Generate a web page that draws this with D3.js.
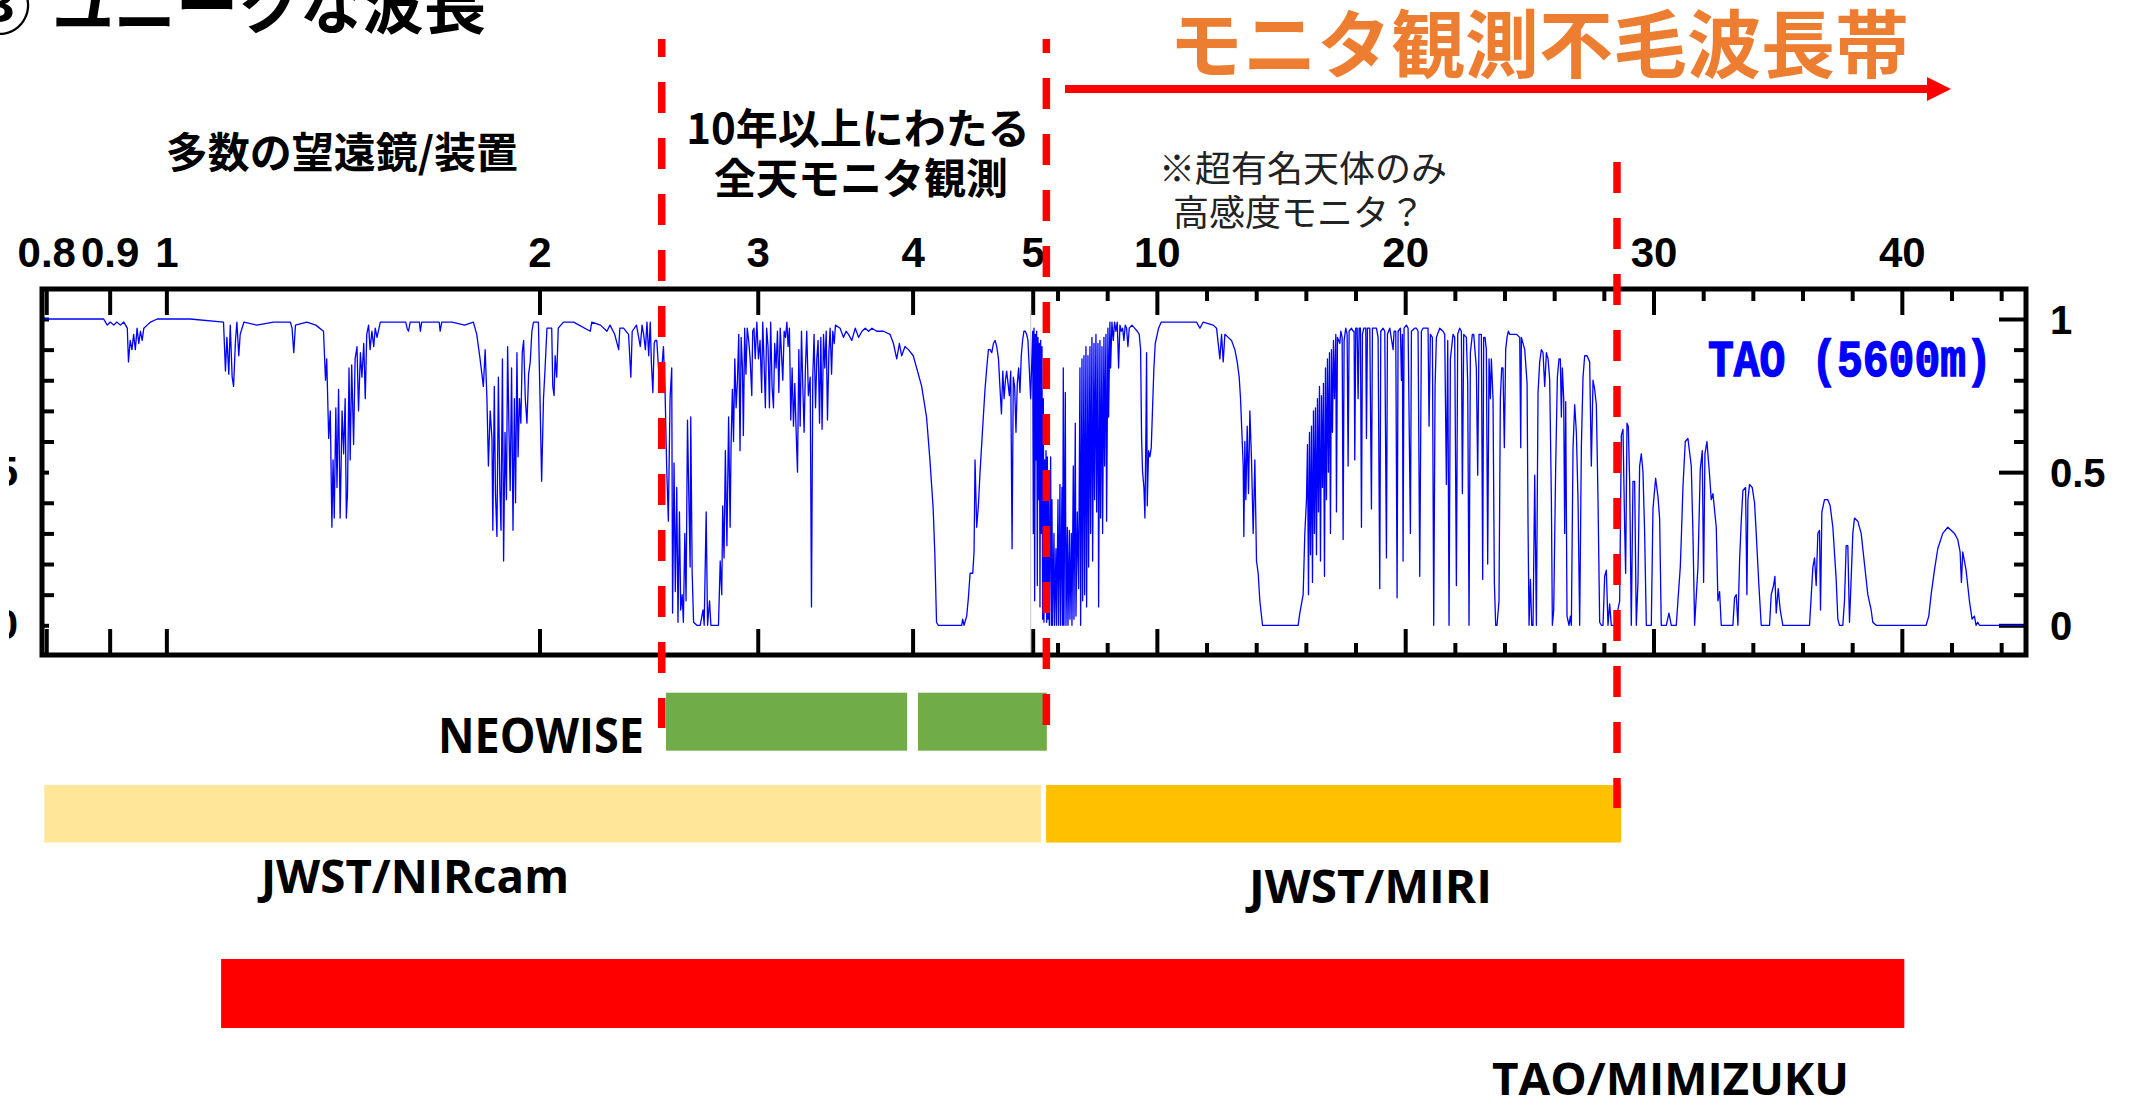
<!DOCTYPE html>
<html>
<head>
<meta charset="utf-8">
<script src="https://cdn.jsdelivr.net/npm/d3@7"></script>
<style>
  html, body { margin: 0; padding: 0; background: #fff; overflow: hidden; }
</style>
</head>
<body>
<svg id="chart" width="2131" height="1103"></svg>
<script>
// atmospheric transmission at TAO (5600m), [wavelength um, transmission]
// 0.79 - 5 um (log part of the axis)
const specNear = [
  [0.794,1.00],[0.890,1.00],[0.896,0.98],[0.901,0.99],[0.907,0.98],[0.912,0.99],[0.918,0.98],[0.924,0.99],
  [0.930,0.97],[0.932,0.86],[0.935,0.93],[0.938,0.90],[0.941,0.95],[0.944,0.90],[0.947,0.97],[0.950,0.92],
  [0.953,0.96],[0.956,0.93],[0.959,0.97],[0.965,0.98],[0.971,0.99],[0.983,1.00],[1.045,1.00],[1.112,0.99],
  [1.116,0.83],[1.119,0.94],[1.123,0.82],[1.126,0.98],[1.130,0.81],[1.133,0.78],[1.137,0.93],[1.140,0.99],
  [1.144,0.88],[1.147,0.95],[1.155,0.99],[1.183,0.98],[1.220,0.99],[1.259,0.99],[1.263,0.97],[1.267,0.89],
  [1.271,0.98],[1.298,0.99],[1.320,0.98],[1.339,0.96],
  [1.344,0.80],[1.347,0.87],[1.352,0.61],[1.356,0.70],[1.360,0.32],[1.363,0.54],[1.366,0.35],[1.370,0.71],
  [1.373,0.45],[1.377,0.77],[1.381,0.35],[1.386,0.70],[1.390,0.56],[1.394,0.74],[1.397,0.35],[1.400,0.43],
  [1.404,0.84],[1.407,0.54],[1.411,0.85],[1.416,0.59],[1.420,0.87],[1.425,0.91],[1.429,0.70],[1.434,0.89],
  [1.438,0.81],[1.443,0.92],[1.447,0.74],[1.451,0.95],[1.456,0.98],[1.460,0.90],[1.465,0.96],[1.470,0.91],
  [1.474,0.97],[1.479,0.94],[1.488,0.99],[1.520,0.99],[1.560,0.99],[1.564,0.97],[1.568,0.96],[1.573,0.99],
  [1.600,0.99],[1.603,0.96],[1.607,0.99],[1.660,0.99],[1.663,0.96],[1.668,0.99],[1.700,0.99],[1.740,0.98],
  [1.769,0.99],[1.780,0.95],[1.791,0.87],[1.802,0.78],[1.808,0.90],[1.814,0.74],[1.819,0.52],[1.825,0.70],
  [1.831,0.61],[1.834,0.31],[1.839,0.78],[1.843,0.43],[1.848,0.29],[1.853,0.81],[1.858,0.45],[1.862,0.31],
  [1.867,0.87],[1.871,0.21],[1.876,0.63],[1.881,0.41],[1.885,0.91],[1.890,0.63],[1.894,0.44],[1.899,0.84],
  [1.904,0.31],[1.909,0.74],[1.913,0.40],[1.918,0.89],[1.922,0.55],[1.927,0.74],[1.932,0.66],[1.937,0.89],
  [1.942,0.93],[1.948,0.74],[1.954,0.66],[1.960,0.82],[1.966,0.86],[1.972,0.96],[1.978,0.99],[1.990,0.99],
  [1.996,0.99],[2.002,0.74],[2.008,0.47],[2.015,0.74],[2.021,0.84],[2.028,0.97],[2.046,0.97],[2.050,0.78],
  [2.055,0.75],[2.059,0.88],[2.065,0.81],[2.071,0.97],[2.091,0.99],[2.131,0.99],[2.198,0.96],[2.204,0.99],
  [2.240,0.98],[2.267,0.96],[2.280,0.98],[2.300,0.95],[2.317,0.90],[2.322,0.97],[2.338,0.97],[2.360,0.95],
  [2.370,0.81],[2.376,0.96],[2.395,0.98],[2.412,0.91],[2.420,0.98],[2.427,0.95],[2.435,0.90],[2.442,0.99],
  [2.450,0.88],[2.457,0.99],[2.462,0.86],[2.469,0.76],[2.475,0.92],[2.480,0.93],
  [2.487,0.93],[2.502,0.76],[2.518,0.91],[2.526,0.75],[2.533,0.52],[2.541,0.34],[2.549,0.74],[2.557,0.84],
  [2.561,0.04],[2.568,0.53],[2.574,0.11],[2.581,0.45],[2.587,0.01],[2.594,0.37],[2.600,0.05],[2.607,0.10],
  [2.613,0.01],[2.620,0.30],[2.626,0.08],[2.633,0.67],[2.639,0.44],[2.646,0.19],[2.649,0.68],[2.656,0.17],
  [2.663,0.01],[2.679,0.00],[2.696,0.00],[2.710,0.05],[2.716,0.00],[2.726,0.37],[2.733,0.00],[2.743,0.08],
  [2.750,0.00],[2.772,0.00],[2.789,0.00],[2.798,0.21],[2.806,0.10],[2.811,0.39],[2.818,0.22],[2.825,0.57],
  [2.833,0.26],[2.842,0.68],[2.850,0.32],[2.855,0.59],[2.862,0.77],[2.868,0.60],[2.875,0.87],[2.882,0.71],
  [2.889,0.80],[2.896,0.95],[2.903,0.57],[2.909,0.94],[2.916,0.84],[2.921,0.62],[2.928,0.97],[2.935,0.82],
  [2.942,0.97],[2.950,0.93],[2.958,0.87],[2.967,0.75],[2.972,0.96],[2.979,0.97],[2.986,0.87],[2.995,0.99],
  [3.004,0.87],[3.013,0.93],[3.022,0.76],[3.028,0.99],[3.035,0.87],[3.043,0.71],[3.050,0.97],[3.058,0.91],
  [3.066,0.71],[3.073,0.99],[3.081,0.78],[3.089,0.71],[3.096,0.92],[3.104,0.84],[3.112,0.96],[3.120,0.76],
  [3.128,0.97],[3.135,0.89],[3.143,0.80],[3.151,0.96],[3.159,0.94],[3.167,0.99],[3.174,0.91],[3.182,0.97],
  [3.190,0.67],[3.198,0.84],[3.206,0.65],[3.214,0.79],[3.222,0.63],[3.230,0.50],[3.238,0.90],[3.246,0.65],
  [3.254,0.96],[3.262,0.78],[3.270,0.63],[3.278,0.84],[3.286,0.96],[3.296,0.75],[3.307,0.81],[3.315,0.06],
  [3.323,0.81],[3.331,0.95],[3.340,0.71],[3.348,0.87],[3.356,0.93],[3.365,0.66],[3.373,0.94],[3.381,0.64],
  [3.390,0.95],[3.398,0.84],[3.407,0.96],[3.415,0.67],[3.424,0.89],[3.432,0.97],[3.441,0.82],[3.449,0.96],
  [3.458,0.92],[3.466,0.98],[3.496,0.97],[3.518,0.94],[3.535,0.96],[3.551,0.95],[3.573,0.93],[3.596,0.97],
  [3.618,0.94],[3.641,0.96],[3.663,0.97],[3.686,0.96],[3.709,0.97],[3.742,0.96],[3.789,0.96],[3.836,0.95],
  [3.860,0.92],[3.884,0.87],[3.903,0.92],[3.920,0.88],[3.944,0.91],[3.969,0.90],[4.005,0.88],[4.043,0.82],
  [4.068,0.78],[4.105,0.68],[4.131,0.54],[4.156,0.38],[4.169,0.23],[4.182,0.01],[4.195,0.00],[4.382,0.00],
  [4.390,0.02],[4.401,0.00],[4.423,0.03],[4.437,0.09],[4.451,0.17],[4.473,0.17],[4.484,0.24],[4.492,0.54],
  [4.506,0.32],[4.520,0.39],[4.534,0.50],[4.557,0.65],[4.576,0.77],[4.591,0.84],[4.605,0.90],[4.619,0.90],
  [4.634,0.89],[4.648,0.92],[4.663,0.93],[4.677,0.91],[4.692,0.87],[4.706,0.77],[4.718,0.69],[4.730,0.83],
  [4.741,0.74],[4.753,0.80],[4.764,0.83],[4.776,0.79],[4.788,0.75],[4.800,0.83],[4.812,0.25],[4.823,0.81],
  [4.835,0.78],[4.847,0.63],[4.859,0.79],[4.871,0.84],[4.883,0.76],[4.895,0.88],[4.907,0.93],[4.919,0.96],
  [4.931,0.96],[4.944,0.95],[4.956,0.93],[4.968,0.84],[4.981,0.74]
];

// 5 - 24 um (linear part)
const specMid = [
  [5.000,0.96],[5.025,0.30],[5.052,0.97],[5.079,0.08],[5.106,0.95],[5.132,0.54],[5.159,0.96],[5.186,0.13],
  [5.213,0.94],[5.240,0.41],[5.267,0.92],[5.293,0.06],[5.320,0.93],[5.347,0.30],[5.374,0.91],[5.401,0.02],
  [5.428,0.74],[5.454,0.01],[5.481,0.54],[5.508,0.08],[5.535,0.57],[5.562,0.01],[5.589,0.55],[5.615,0.02],
  [5.642,0.45],[5.669,0.00],[5.723,0.55],[5.750,0.00],[5.776,0.41],[5.803,0.00],[5.857,0.30],[5.884,0.00],
  [5.937,0.25],[5.964,0.00],[6.018,0.41],[6.045,0.00],[6.098,0.46],[6.125,0.00],[6.179,0.45],[6.206,0.00],
  [6.232,0.84],[6.259,0.00],[6.313,0.76],[6.340,0.00],[6.393,0.32],[6.420,0.00],[6.474,0.31],[6.501,0.02],
  [6.554,0.30],[6.581,0.00],[6.635,0.52],[6.662,0.02],[6.715,0.66],[6.742,0.03],[6.796,0.37],[6.849,0.12],
  [6.903,0.84],[6.930,0.00],[6.984,0.87],[7.010,0.08],[7.064,0.88],[7.091,0.10],[7.145,0.91],[7.171,0.06],
  [7.225,0.88],[7.252,0.19],[7.306,0.91],[7.332,0.30],[7.386,0.94],[7.413,0.21],[7.467,0.92],[7.493,0.41],
  [7.547,0.95],[7.574,0.37],[7.628,0.92],[7.654,0.06],[7.708,0.93],[7.735,0.35],[7.789,0.91],[7.815,0.30],
  [7.869,0.94],[7.896,0.52],[7.950,0.95],[7.976,0.34],[8.030,0.97],[8.057,0.68],[8.110,0.99],[8.137,0.84],
  [8.191,0.99],[8.245,0.93],[8.298,0.99],[8.352,0.96],[8.405,0.99],[8.459,0.84],[8.513,0.98],[8.566,0.96],
  [8.620,0.97],[8.674,0.93],[8.727,0.98],[8.781,0.97],[8.835,0.91],[8.888,0.97],[8.996,0.98],[9.103,0.97],
  [9.210,0.96],[9.291,0.95],[9.345,0.90],[9.385,0.61],[9.425,0.50],[9.479,0.45],[9.519,0.35],[9.559,0.63],
  [9.586,0.89],[9.613,0.39],[9.666,0.57],[9.720,0.55],[9.774,0.58],[9.827,0.71],[9.881,0.84],[9.935,0.92],
  [9.988,0.94],[10.069,0.97],[10.176,0.99],[10.928,0.99],[11.598,0.99],[11.733,0.97],[11.867,0.99],
  [12.269,0.98],[12.403,0.97],[12.538,0.87],[12.605,0.95],[12.672,0.86],[12.739,0.95],[12.873,0.94],
  [13.007,0.93],[13.141,0.90],[13.235,0.86],[13.316,0.81],[13.369,0.74],[13.423,0.63],[13.477,0.52],
  [13.503,0.29],[13.544,0.60],[13.584,0.41],[13.638,0.65],[13.691,0.43],[13.745,0.70],[13.812,0.54],
  [13.879,0.30],[13.946,0.54],[14.013,0.21],[14.080,0.17],[14.147,0.08],[14.255,0.00],[15.690,0.00],
  [15.757,0.04],[15.891,0.10],[15.958,0.30],[16.025,0.41],
  [16.066,0.59],[16.106,0.10],[16.146,0.63],[16.186,0.23],[16.227,0.65],[16.267,0.14],[16.307,0.70],
  [16.347,0.30],[16.387,0.71],[16.428,0.23],[16.468,0.74],[16.508,0.37],[16.548,0.78],[16.589,0.21],
  [16.629,0.75],[16.669,0.45],[16.709,0.79],[16.750,0.16],[16.790,0.84],[16.830,0.41],[16.870,0.87],
  [16.910,0.50],[16.951,0.89],[16.991,0.30],[17.031,0.90],[17.071,0.63],[17.112,0.93],[17.152,0.74],
  [17.206,0.95],[17.232,0.37],[17.273,0.94],[17.367,0.92],[17.407,0.96],[17.461,0.94],[17.501,0.28],
  [17.541,0.93],[17.608,0.97],[17.662,0.95],[17.702,0.52],[17.742,0.96],[17.836,0.97],[17.903,0.96],
  [17.943,0.96],[17.970,0.54],[18.010,0.97],[18.064,0.97],[18.104,0.74],[18.145,0.97],[18.198,0.97],
  [18.239,0.32],[18.279,0.95],[18.333,0.97],[18.413,0.97],[18.440,0.61],[18.480,0.97],[18.574,0.97],
  [18.641,0.38],[18.681,0.97],[18.775,0.97],[18.842,0.97],[18.909,0.94],[18.976,0.12],[19.017,0.96],
  [19.110,0.97],[19.178,0.96],[19.245,0.22],[19.285,0.95],[19.379,0.97],[19.513,0.90],[19.553,0.96],
  [19.620,0.96],[19.674,0.09],[19.714,0.96],[19.808,0.97],[19.848,0.80],[19.888,0.95],[19.915,0.21],
  [19.955,0.97],[20.049,0.98],[20.117,0.97],[20.210,0.30],[20.251,0.96],[20.385,0.97],[20.452,0.97],
  [20.519,0.96],[20.586,0.16],[20.653,0.96],[20.720,0.97],[20.854,0.97],[20.921,0.97],[20.961,0.65],
  [21.015,0.95],[21.096,0.94],[21.149,0.00],[21.203,0.78],[21.257,0.94],[21.391,0.97],[21.525,0.96],
  [21.592,0.95],[21.659,0.46],[21.713,0.93],[21.766,0.00],[21.820,0.87],[21.927,0.95],[21.994,0.94],
  [22.062,0.13],[22.115,0.95],[22.196,0.97],[22.263,0.96],[22.303,0.43],[22.357,0.95],[22.464,0.94],
  [22.518,0.79],[22.571,0.00],[22.625,0.89],[22.705,0.95],[22.759,0.95],[22.866,0.84],[22.920,0.49],
  [22.974,0.95],[23.027,0.95],[23.068,0.95],[23.121,0.15],[23.161,0.94],[23.215,0.94],[23.269,0.90],
  [23.322,0.20],[23.376,0.87],[23.430,0.74],[23.470,0.87],[23.537,0.74],[23.591,0.14],[23.644,0.00],
  [23.698,0.00],[23.778,0.08],[23.832,0.74],[23.886,0.84],[23.939,0.84],[23.993,0.58],[24.047,0.90],
  [24.101,0.94],[24.154,0.96],[24.208,0.95]
];

// 24 - 45 um
const specFar = [
  [24.277,0.95],[24.478,0.95],[24.612,0.94],[24.653,0.58],[24.679,0.94],[24.814,0.90],[24.908,0.79],
  [24.948,0.32],[24.988,0.00],[25.042,0.15],[25.095,0.00],[25.149,0.00],[25.216,0.49],[25.283,0.00],
  [25.350,0.76],[25.417,0.86],[25.484,0.90],[25.551,0.89],[25.618,0.78],[25.686,0.89],[25.753,0.87],
  [25.820,0.80],[25.887,0.41],[25.927,0.00],[25.981,0.05],[26.061,0.52],[26.128,0.81],[26.195,0.87],
  [26.249,0.87],[26.289,0.68],[26.329,0.84],[26.383,0.74],[26.423,0.30],[26.464,0.73],[26.517,0.03],
  [26.598,0.00],[26.651,0.03],[26.692,0.00],[26.759,0.58],[26.826,0.72],[26.893,0.63],[26.960,0.41],
  [27.027,0.00],[27.094,0.58],[27.161,0.81],[27.228,0.88],[27.322,0.88],[27.429,0.86],[27.496,0.52],
  [27.564,0.80],[27.631,0.77],[27.698,0.72],[27.765,0.41],[27.832,0.01],[27.899,0.00],[27.966,0.00],
  [28.033,0.16],[28.100,0.18],[28.167,0.00],[28.234,0.07],[28.301,0.00],[28.435,0.00],[28.637,0.08],
  [28.704,0.62],[28.771,0.64],[28.838,0.32],[28.878,0.17],[28.932,0.66],[28.985,0.65],[29.039,0.47],
  [29.106,0.00],[29.173,0.47],[29.240,0.47],[29.307,0.00],[29.374,0.14],[29.441,0.52],[29.508,0.56],
  [29.576,0.50],[29.643,0.30],[29.710,0.00],[29.911,0.00],[29.978,0.38],[30.085,0.48],[30.179,0.42],
  [30.246,0.35],[30.313,0.00],[30.515,0.00],[30.622,0.04],[30.716,0.00],[30.917,0.00],[30.984,0.08],
  [31.078,0.19],[31.118,0.28],[31.185,0.45],[31.279,0.60],[31.386,0.61],[31.521,0.52],[31.588,0.30],
  [31.655,0.00],[31.789,0.19],[31.883,0.51],[31.963,0.57],[32.017,0.14],[32.071,0.56],[32.151,0.60],
  [32.258,0.49],[32.325,0.41],[32.393,0.43],[32.527,0.32],[32.594,0.08],[32.661,0.11],[32.728,0.00],
  [33.197,0.00],[33.264,0.09],[33.332,0.10],[33.399,0.00],[33.466,0.21],[33.533,0.34],[33.600,0.44],
  [33.707,0.45],[33.761,0.10],[33.801,0.41],[33.868,0.46],[33.975,0.45],[34.069,0.40],[34.136,0.30],
  [34.244,0.13],[34.338,0.00],[34.673,0.00],[34.740,0.10],[34.834,0.13],[34.888,0.16],[34.941,0.04],
  [35.022,0.12],[35.102,0.05],[35.209,0.00],[36.283,0.00],[36.417,0.19],[36.484,0.22],[36.551,0.13],
  [36.618,0.30],[36.685,0.31],[36.725,0.05],[36.779,0.37],[36.886,0.41],[37.020,0.41],[37.114,0.39],
  [37.222,0.32],[37.356,0.15],[37.423,0.02],[37.490,0.00],[37.624,0.00],[37.691,0.08],[37.758,0.26],
  [37.825,0.26],[37.892,0.01],[37.959,0.15],[38.026,0.30],[38.093,0.35],[38.227,0.34],[38.362,0.30],
  [38.496,0.20],[38.630,0.10],[38.764,0.05],[38.831,0.01],[38.965,0.00],[40.978,0.00],[41.085,0.03],
  [41.179,0.10],[41.313,0.18],[41.447,0.25],[41.648,0.30],[41.849,0.32],[41.984,0.31],[42.118,0.30],
  [42.252,0.28],[42.346,0.24],[42.399,0.14],[42.453,0.24],[42.587,0.18],[42.721,0.08],[42.828,0.02],
  [42.922,0.03],[42.990,0.00],[43.057,0.01],[43.124,0.00],[45.000,0.00]
];

const tickLabelsLog = [0.8, 0.9, 1, 2, 3, 4, 5];
const tickLabelsLin = [10, 20, 30, 40];
const minorTicksLin = [6, 8, 12, 14, 16, 18, 22, 24, 26, 28, 32, 34, 36, 38, 42, 44];
const yMajor = [0, 0.5, 1];
const yMinor = [0.1, 0.2, 0.3, 0.4, 0.6, 0.7, 0.8, 0.9];

// red dashed boundaries (um)
const guideWaves = [2.51, 5.55, 28.53];

// instrument coverage (um)
const instNames = ["NEOWISE", "JWST/NIRcam", "JWST/MIRI", "TAO/MIMIZUKU"];
const instRanges = [[[2.53, 3.96], [4.04, 5.57]], [[0.797, 5.33]], [[5.54, 28.7]], [[1.107, 40.1]]];
const instColors = ["#70AD47", "#FFE699", "#FFC000", "#FF0000"];

const svg = d3.select("#chart");

const frame = { left: 42, right: 2026, top: 289, bottom: 655 };
const xSplit = 1032.7;
const xLog = d3.scaleLog().domain([0.7937, 5]).range([frame.left, xSplit]);
const xLin = d3.scaleLinear().domain([5, 45]).range([xSplit, frame.right]);
const xPos = w => (w <= 5 ? xLog(w) : xLin(w));
const y = d3.scaleLinear().domain([0, 1]).range([625.3, 319]);

const tickFont = "'Liberation Sans', Arial, sans-serif";
const jpFont = "'Noto Sans CJK JP', sans-serif";

function styleAxis(g, size) {
  g.select(".domain").remove();
  g.selectAll("line").attr("stroke", "#000").attr("stroke-width", 4);
  g.selectAll("text")
    .attr("font-family", tickFont)
    .attr("font-size", size || 42)
    .attr("font-weight", "bold")
    .attr("fill", "#000");
}

// the left labels are mostly off the slide, only a sliver shows
svg.append("defs").append("clipPath").attr("id", "leftcut")
  .append("rect").attr("x", 9).attr("y", 0).attr("width", 40).attr("height", 1103);

// top axis
svg.append("g").attr("transform", `translate(0,${frame.top})`)
  .call(d3.axisTop(xLog).tickValues(tickLabelsLog).tickSize(-26).tickPadding(22).tickFormat(d => String(d)))
  .call(styleAxis);
svg.append("g").attr("transform", `translate(0,${frame.top})`)
  .call(d3.axisTop(xLin).tickValues(tickLabelsLin).tickSize(-26).tickPadding(22).tickFormat(d => String(d)))
  .call(styleAxis);
svg.append("g").attr("transform", `translate(0,${frame.top})`)
  .call(d3.axisTop(xLin).tickValues(minorTicksLin).tickSize(-12).tickFormat(""))
  .call(styleAxis);

// bottom axis
svg.append("g").attr("transform", `translate(0,${frame.bottom})`)
  .call(d3.axisBottom(xLog).tickValues(tickLabelsLog).tickSize(-26).tickFormat(""))
  .call(styleAxis);
svg.append("g").attr("transform", `translate(0,${frame.bottom})`)
  .call(d3.axisBottom(xLin).tickValues(tickLabelsLin).tickSize(-26).tickFormat(""))
  .call(styleAxis);
svg.append("g").attr("transform", `translate(0,${frame.bottom})`)
  .call(d3.axisBottom(xLin).tickValues(minorTicksLin).tickSize(-12).tickFormat(""))
  .call(styleAxis);

// left axis
const leftAxis = svg.append("g").attr("clip-path", "url(#leftcut)")
  .append("g").attr("transform", `translate(${frame.left},0)`)
  .call(d3.axisLeft(y).tickValues(yMajor).tickSize(-27).tickPadding(24).tickFormat(d => (d === 1 ? "" : String(d))))
  .call(styleAxis);
svg.append("g").attr("transform", `translate(${frame.left},0)`)
  .call(d3.axisLeft(y).tickValues(yMinor).tickSize(-12).tickFormat(""))
  .call(styleAxis);

// right axis
svg.append("g").attr("transform", `translate(${frame.right},0)`)
  .call(d3.axisRight(y).tickValues(yMajor).tickSize(-27).tickPadding(24).tickFormat(d => String(d)))
  .call(g => styleAxis(g, 40))
  .selectAll("text").attr("dy", "0.36em");
svg.append("g").attr("transform", `translate(${frame.right},0)`)
  .call(d3.axisRight(y).tickValues(yMinor).tickSize(-12).tickFormat(""))
  .call(styleAxis);

// thin panel boundary
svg.append("line")
  .attr("x1", xSplit - 2).attr("x2", xSplit - 2)
  .attr("y1", 310).attr("y2", frame.bottom - 2)
  .attr("stroke", "#c8c8c8").attr("stroke-width", 1);

// spectrum
const spectrum = specNear.concat(specMid, specFar);
const line = d3.line().x(d => xPos(d[0])).y(d => y(d[1]));
svg.append("path")
  .datum(spectrum)
  .attr("d", line)
  .attr("fill", "none")
  .attr("stroke", "#0000FF")
  .attr("stroke-width", 1.3)
  .attr("stroke-linejoin", "round");

// frame
svg.append("rect")
  .attr("x", frame.left).attr("y", frame.top)
  .attr("width", frame.right - frame.left).attr("height", frame.bottom - frame.top)
  .attr("fill", "none").attr("stroke", "#000").attr("stroke-width", 5);

svg.append("text")
  .attr("transform", "translate(1708,376) scale(1,1.2)")
  .attr("font-family", "'Liberation Mono', 'Courier New', monospace")
  .attr("font-weight", "bold").attr("font-size", 43)
  .attr("fill", "#0000FF").attr("stroke", "#0000FF").attr("stroke-width", 1.2)
  .text("TAO (5600m)");

// instrument bars
const rowTop = [692.7, 785, 785, 959];
const rowH = [58, 57.5, 57.5, 69];
instRanges.forEach((ranges, i) => {
  svg.selectAll(null).data(ranges).enter().append("rect")
    .attr("x", d => xPos(d[0]))
    .attr("width", d => xPos(d[1]) - xPos(d[0]))
    .attr("y", rowTop[i]).attr("height", rowH[i])
    .attr("fill", instColors[i]);
});

const instLabels = [
  { x: 438, y: 753, size: 48, len: 206 },
  { x: 261, y: 893, size: 46, len: 308 },
  { x: 1249, y: 903, size: 47, len: 243 },
  { x: 1492, y: 1095, size: 45, len: 357 }
];
instLabels.forEach((p, i) => {
  svg.append("text")
    .attr("x", p.x).attr("y", p.y)
    .attr("font-family", "'Open Sans', sans-serif").attr("font-weight", "bold")
    .attr("font-size", p.size)
    .attr("textLength", p.len).attr("lengthAdjust", "spacingAndGlyphs")
    .attr("fill", "#000")
    .text(instNames[i]);
});

// red dashed boundaries
const guideSpan = [[39, 728, 13], [39, 725, 17], [162, 808, 0]];
guideWaves.forEach((w, i) => {
  svg.append("line")
    .attr("x1", xPos(w)).attr("x2", xPos(w))
    .attr("y1", guideSpan[i][0]).attr("y2", guideSpan[i][1])
    .attr("stroke", "#FF0000").attr("stroke-width", 7.5)
    .attr("stroke-dasharray", "31,25")
    .attr("stroke-dashoffset", guideSpan[i][2]);
});

// arrow
svg.append("line")
  .attr("x1", 1065).attr("x2", 1930).attr("y1", 89).attr("y2", 89)
  .attr("stroke", "#FF0000").attr("stroke-width", 8);
svg.append("path")
  .attr("d", "M1927,77 L1951,89 L1927,101 Z")
  .attr("fill", "#FF0000");

// texts
svg.append("text").attr("x", -31).attr("y", 29)
  .attr("font-family", jpFont).attr("font-weight", "bold").attr("font-size", 62)
  .attr("fill", "#000").text("③");
svg.append("text").attr("x", 52).attr("y", 29)
  .attr("font-family", jpFont).attr("font-weight", "bold").attr("font-size", 62)
  .attr("fill", "#000").text("ユニークな波長");

svg.append("text").attr("x", 1539).attr("y", 72).attr("text-anchor", "middle")
  .attr("font-family", jpFont).attr("font-weight", "bold").attr("font-size", 74)
  .attr("fill", "#ED7D31").text("モニタ観測不毛波長帯");

svg.append("text").attr("x", 342).attr("y", 168).attr("text-anchor", "middle")
  .attr("font-family", jpFont).attr("font-weight", "bold").attr("font-size", 42)
  .attr("fill", "#000").text("多数の望遠鏡/装置");

svg.append("text").attr("x", 858).attr("y", 144).attr("text-anchor", "middle")
  .attr("font-family", jpFont).attr("font-weight", "bold").attr("font-size", 42)
  .attr("fill", "#000").text("10年以上にわたる");
svg.append("text").attr("x", 861).attr("y", 194).attr("text-anchor", "middle")
  .attr("font-family", jpFont).attr("font-weight", "bold").attr("font-size", 42)
  .attr("fill", "#000").text("全天モニタ観測");

svg.append("text").attr("x", 1303).attr("y", 182).attr("text-anchor", "middle")
  .attr("font-family", jpFont).attr("font-size", 36)
  .attr("fill", "#222").text("※超有名天体のみ");
svg.append("text").attr("x", 1299).attr("y", 226).attr("text-anchor", "middle")
  .attr("font-family", jpFont).attr("font-size", 36)
  .attr("fill", "#222").text("高感度モニタ？");
</script>
</body>
</html>
